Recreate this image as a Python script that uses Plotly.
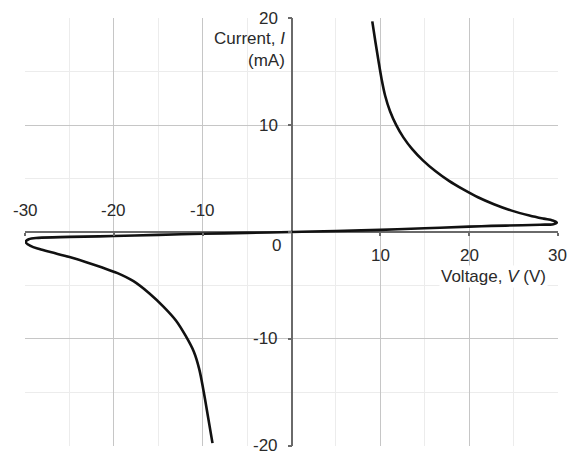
import plotly.graph_objects as go

# I-V loop (V in volts, I in mA)
upper_v = [9.1, 9.45, 9.8, 10.15, 10.55, 11.1, 11.8, 12.6, 13.6, 14.8, 16.2, 17.7, 19.3, 21.0,
           22.8, 24.8, 26.8, 28.4, 29.4, 29.9]
upper_i = [19.7, 17.8, 16.0, 14.3, 12.75, 11.3, 10.0, 8.85, 7.75, 6.7, 5.7, 4.8, 4.0, 3.25,
           2.6, 2.0, 1.55, 1.25, 1.08, 0.88]
middle_v = [29.5, 28.0, 26.0, 22.5, 20.0, 15.0, 10.0, 5.0, 0.0, -5.0, -10.0, -15.0, -20.0,
            -25.0, -28.5, -29.6, -29.95]
middle_i = [0.73, 0.68, 0.63, 0.57, 0.5, 0.35, 0.2, 0.09, 0.0, -0.08, -0.17, -0.27, -0.38,
            -0.46, -0.55, -0.68, -0.93]
lower_v = [-29.4, -28.4, -26.8, -25.0, -23.2, -21.4, -19.6, -17.8, -16.0, -14.4, -13.0, -11.9,
           -11.0, -10.4, -9.9, -9.4, -8.9]
lower_i = [-1.3, -1.6, -1.95, -2.35, -2.8, -3.3, -3.85, -4.6, -5.75, -7.0, -8.3, -9.75,
           -11.2, -12.8, -14.9, -17.3, -19.75]

voltage_v = upper_v + middle_v + lower_v
current_ma = upper_i + middle_i + lower_i

x_ticks_neg = [-30, -20, -10]
x_ticks_pos = [10, 20, 30]
y_ticks = [-20, -10, 10, 20]
zero_label = "0"
x_title = "Voltage, <i>V</i> (V)"
y_title = "Current, <i>I</i><br>(mA)"

FONT = "Liberation Sans, Arial, sans-serif"
TXT = "#2a2a2a"
FS = 17

fig = go.Figure()
fig.add_trace(go.Scatter(
    x=voltage_v, y=current_ma, mode="lines",
    line=dict(color="#111111", width=2.6, shape="spline", smoothing=1.0),
    hoverinfo="skip", showlegend=False,
))

axis_common = dict(
    showgrid=True, gridcolor="#c6c6c6", gridwidth=1,
    minor=dict(dtick=5, showgrid=True, gridcolor="#ececec", gridwidth=1),
    showline=False, showticklabels=False,
    dtick=10, tick0=0, ticks="outside", tickcolor="#6a6a6a", tickwidth=1.5,
    anchor="free", position=0.5,
    zeroline=True, zerolinecolor="#6a6a6a", zerolinewidth=2,
)

fig.update_layout(
    width=580, height=451,
    margin=dict(l=17, r=30, t=10, b=13),
    paper_bgcolor="white", plot_bgcolor="white",
    font=dict(family=FONT, size=FS, color=TXT),
    xaxis=dict(range=[-30.02, 30.02], ticklen=3, **axis_common),
    yaxis=dict(range=[-20.02, 20.02], ticklen=4, **axis_common),
)

annotations = []
for v in x_ticks_neg:
    annotations.append(dict(x=v, y=0, xref="x", yref="y", text=str(v), showarrow=False,
                            xanchor="center", yanchor="middle", yshift=22))
for v in x_ticks_pos:
    annotations.append(dict(x=v, y=0, xref="x", yref="y", text=str(v), showarrow=False,
                            xanchor="center", yanchor="middle", yshift=-23))
for v in y_ticks:
    annotations.append(dict(x=0, y=v, xref="x", yref="y", text=str(v), showarrow=False,
                            xanchor="right", yanchor="middle", xshift=-12))
annotations.append(dict(x=0, y=0, xref="x", yref="y", text=zero_label, showarrow=False,
                        xanchor="right", yanchor="middle", xshift=-9, yshift=-13))
annotations.append(dict(x=0, y=20, xref="x", yref="y", text=y_title, showarrow=False,
                        xanchor="right", yanchor="top", align="right", xshift=-5, yshift=-9))
annotations.append(dict(x=28.9, y=0, xref="x", yref="y", text=x_title, showarrow=False,
                        xanchor="right", yanchor="middle", yshift=-44, bgcolor="white"))
fig.update_layout(annotations=annotations)

fig.write_html("out.html")
